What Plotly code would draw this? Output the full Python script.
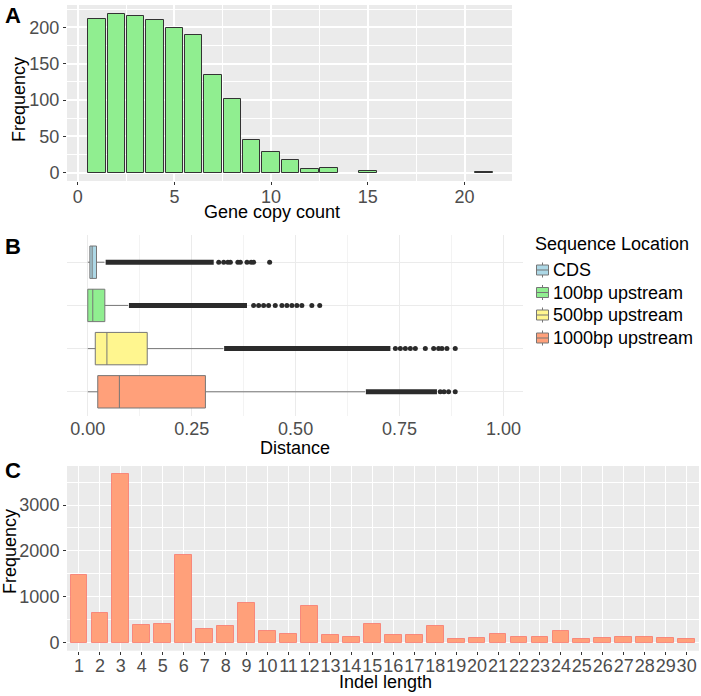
import plotly.graph_objects as go

# ---------------- Data ----------------
# Panel A: gene copy count histogram
copy_count = list(range(1, 22))
copy_freq = [211, 219, 215, 210, 199, 190, 135, 102, 45, 29, 17, 5, 7, 0, 3, 0, 0, 0, 0, 0, 1]

# Panel B: distance boxplots (precomputed statistics)
locations = ["CDS", "100bp upstream", "500bp upstream", "1000bp upstream"]
box_colors = ["#ADD8E6", "#90EE90", "#FFF68F", "#FFA07A"]
q1 = [0.005, 0.000, 0.018, 0.024]
median = [0.0105, 0.012, 0.046, 0.076]
q3 = [0.021, 0.041, 0.143, 0.283]
lowerfence = [0.000, 0.000, 0.000, 0.000]
upperfence = [0.040, 0.097, 0.326, 0.667]
# dense runs of overlapping outliers (start, end)
dense_start = [0.043, 0.099, 0.328, 0.669]
dense_end = [0.303, 0.383, 0.728, 0.840]
# sparse outliers beyond the dense runs
sparse_outliers = [
    [0.315, 0.327, 0.337, 0.343, 0.361, 0.367, 0.383, 0.393, 0.399, 0.4375],
    [0.399, 0.411, 0.423, 0.435, 0.451, 0.467, 0.479, 0.491, 0.503, 0.515, 0.539, 0.558],
    [0.740, 0.752, 0.764, 0.776, 0.788, 0.812, 0.832, 0.844, 0.852, 0.864, 0.884],
    [0.848, 0.857, 0.868, 0.884],
]

# Panel C: indel length bar chart
indel_length = list(range(1, 31))
indel_freq = [1468, 654, 3669, 392, 407, 1917, 291, 357, 858, 248,
              183, 793, 168, 117, 414, 160, 160, 370, 74, 96,
              190, 124, 117, 255, 74, 96, 131, 124, 110, 81]

# ---------------- Figure ----------------
FW, FH = 701, 696
FONT = "Liberation Sans, Arial, sans-serif"
TICK_COL = "#4D4D4D"

def clamp(v):
    return max(0.0, min(1.0, v))

def px_x(p):
    return clamp(p / FW)

def px_y(p):
    return clamp(1 - p / FH)

fig = go.Figure()

# Panel A
ax = [c for c, f in zip(copy_count, copy_freq) if f > 0]
ay = [f for f in copy_freq if f > 0]
fig.add_trace(go.Bar(
    x=ax, y=ay, width=0.9,
    marker=dict(color="#90EE90", line=dict(color="#333333", width=1)),
    xaxis="x", yaxis="y", showlegend=False, hoverinfo="x+y"))

# Panel B
for i, loc in enumerate(locations):
    fig.add_trace(go.Box(
        y=[loc], q1=[q1[i]], median=[median[i]], q3=[q3[i]],
        lowerfence=[lowerfence[i]], upperfence=[upperfence[i]],
        orientation="h", name=loc, boxpoints=False,
        fillcolor=box_colors[i], line=dict(color="#767676", width=1),
        width=0.75, whiskerwidth=0,
        xaxis="x2", yaxis="y2", showlegend=False))
for i, loc in enumerate(locations):
    fig.add_trace(go.Scatter(
        x=[dense_start[i], dense_end[i]], y=[loc, loc], mode="lines",
        line=dict(color="#2b2b2b", width=5),
        xaxis="x2", yaxis="y2", showlegend=False, hoverinfo="skip"))
    fig.add_trace(go.Scatter(
        x=sparse_outliers[i], y=[loc] * len(sparse_outliers[i]), mode="markers",
        marker=dict(color="#2b2b2b", size=5),
        xaxis="x2", yaxis="y2", showlegend=False))

# Panel C
fig.add_trace(go.Bar(
    x=indel_length, y=indel_freq, width=0.8,
    marker=dict(color="#FFA07A", line=dict(color="rgba(250,110,100,0.7)", width=1)),
    xaxis="x3", yaxis="y3", showlegend=False))

grey_bg = "#EBEBEB"
common_tick = dict(tickfont=dict(family=FONT, size=18, color=TICK_COL),
                   zeroline=False, showline=False)

A_TOP = 5
fig.update_layout(
    width=FW, height=FH,
    margin=dict(l=0, r=0, t=0, b=0, autoexpand=False),
    paper_bgcolor="white",
    plot_bgcolor="white",
    font=dict(family=FONT, size=18, color="black"),
    boxmode="overlay",
    bargap=0,
    showlegend=False,
    # ---- A ----
    xaxis=dict(domain=[px_x(67), px_x(512)], anchor="y", range=[-0.55, 22.45],
               tick0=0, dtick=5, ticks="outside", ticklen=3, tickcolor="#333333",
               showgrid=True, gridcolor="white", gridwidth=1.6,
               minor=dict(dtick=2.5, tick0=0, showgrid=True, gridcolor="white", gridwidth=0.8, ticks=""),
               **common_tick),
    yaxis=dict(domain=[px_y(181), px_y(A_TOP)], anchor="x", range=[-11.3, 230.7],
               tick0=0, dtick=50, ticks="outside", ticklen=3, tickcolor="#333333",
               showgrid=True, gridcolor="white", gridwidth=1.6,
               minor=dict(dtick=25, tick0=0, showgrid=True, gridcolor="white", gridwidth=0.8, ticks=""),
               **common_tick),
    # ---- B ----
    xaxis2=dict(domain=[px_x(67), px_x(523)], anchor="y2", range=[-0.05, 1.047],
                tickvals=[0, 0.25, 0.5, 0.75, 1.0], ticktext=["0.00", "0.25", "0.50", "0.75", "1.00"],
                ticks="", showgrid=True, gridcolor="#EBEBEB", gridwidth=1,
                minor=dict(dtick=0.125, tick0=0, showgrid=True, gridcolor="#F3F3F3", gridwidth=0.8, ticks=""),
                **common_tick),
    yaxis2=dict(domain=[px_y(416), px_y(235)], anchor="x2", type="category",
                categoryorder="array", categoryarray=locations[::-1],
                range=[-0.56, 3.63], showticklabels=False, ticks="",
                showgrid=True, gridcolor="#EBEBEB", gridwidth=1, zeroline=False),
    # ---- C ----
    xaxis3=dict(domain=[px_x(67), px_x(699)], anchor="y3", range=[0.43, 30.59],
                tickvals=indel_length, ticktext=[str(v) for v in indel_length], tickangle=0,
                ticks="outside", ticklen=3, tickcolor="#333333",
                showgrid=True, gridcolor="white", gridwidth=1.2,
                **common_tick),
    yaxis3=dict(domain=[px_y(650.7), px_y(466)], anchor="x3", range=[-174, 3850],
                tick0=0, dtick=1000, ticks="outside", ticklen=3, tickcolor="#333333",
                showgrid=True, gridcolor="white", gridwidth=1.2,
                minor=dict(dtick=500, tick0=0, showgrid=True, gridcolor="white", gridwidth=0.6, ticks=""),
                **common_tick),
)

# pull the x tick labels of panels A and C a little closer to their axes
try:
    fig.update_layout(xaxis_ticklabelstandoff=-4, xaxis3_ticklabelstandoff=-4)
except (ValueError, TypeError):
    pass

# grey panel backgrounds for A and C
for (x0, x1, y0, y1) in [(67, 512, A_TOP, 181), (67, 699, 466, 650.7)]:
    fig.add_shape(type="rect", xref="paper", yref="paper",
                  x0=px_x(x0), x1=px_x(x1), y0=px_y(y1), y1=px_y(y0),
                  fillcolor=grey_bg, line=dict(width=0), layer="below")

ann = []
def add_text(text, x, y, size=18, bold=False, angle=0, color="black", xanchor="center"):
    ann.append(dict(text=("<b>%s</b>" % text) if bold else text, x=px_x(x), y=px_y(y),
                    xref="paper", yref="paper", showarrow=False, textangle=angle,
                    xanchor=xanchor, yanchor="middle",
                    font=dict(family=FONT, size=size, color=color)))

add_text("A", 13, 16, size=22, bold=True)
add_text("B", 13, 246, size=22, bold=True)
add_text("C", 13, 470, size=22, bold=True)
add_text("Gene copy count", 272, 212)
add_text("Frequency", 19, 100, angle=-90)
add_text("Distance", 295, 448)
add_text("Indel length", 385, 682)
add_text("Frequency", 10, 552, angle=-90)

# Legend for panel B (drawn as keys + text)
add_text("Sequence Location", 533, 244, xanchor="left")
legend_y = [270, 292.5, 315, 338]
for i, loc in enumerate(locations):
    cy = legend_y[i]
    fig.add_shape(type="line", xref="paper", yref="paper",
                  x0=px_x(542.5), x1=px_x(542.5), y0=px_y(cy + 7.5), y1=px_y(cy - 7.5),
                  line=dict(color="#767676", width=1))
    fig.add_shape(type="rect", xref="paper", yref="paper",
                  x0=px_x(536.5), x1=px_x(548.5), y0=px_y(cy + 5), y1=px_y(cy - 5),
                  fillcolor=box_colors[i], line=dict(color="#767676", width=1))
    fig.add_shape(type="line", xref="paper", yref="paper",
                  x0=px_x(536.5), x1=px_x(548.5), y0=px_y(cy), y1=px_y(cy),
                  line=dict(color="#767676", width=1))
    add_text(loc, 551, cy, xanchor="left")

fig.update_layout(annotations=ann)

# remove the default 8px page margin so the figure sits at the window's corner
fig.write_html("out.html", config={"displayModeBar": False},
               post_script="document.body.style.margin='0px';")
